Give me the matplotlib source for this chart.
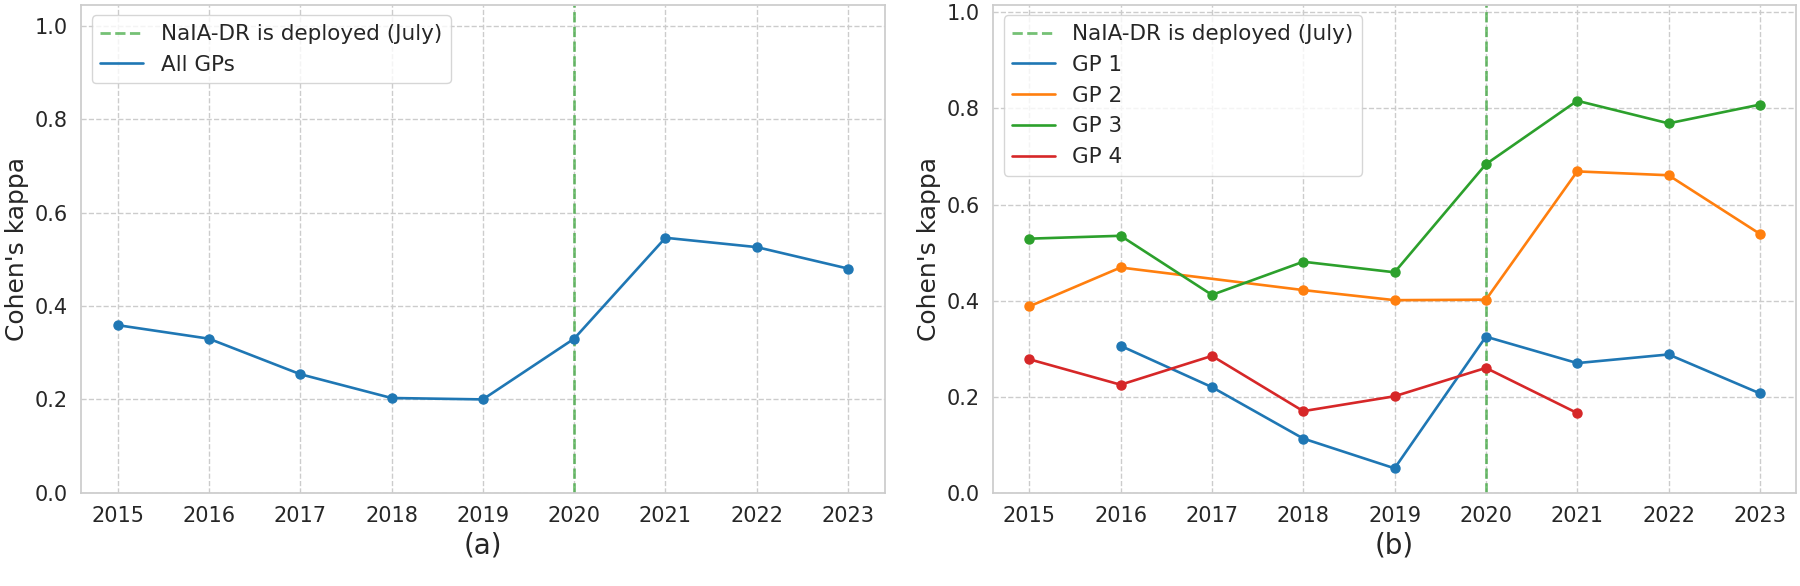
import numpy as np
import matplotlib.pyplot as plt
import seaborn as sns

sns.set_theme(style="whitegrid", rc={"grid.linestyle": "--"})
plt.rcParams['font.family'] = ['DejaVu Sans']

years = [2015, 2016, 2017, 2018, 2019, 2020, 2021, 2022, 2023]
all_gps = [0.359, 0.330, 0.254, 0.203, 0.200, 0.330, 0.546, 0.526, 0.480]

gp1_years = [2016, 2017, 2018, 2019, 2020, 2021, 2022, 2023]
gp1 = [0.306, 0.220, 0.113, 0.051, 0.325, 0.270, 0.288, 0.207]

gp2_years = [2015, 2016, 2018, 2019, 2020, 2021, 2022, 2023]
gp2 = [0.388, 0.469, 0.422, 0.401, 0.402, 0.669, 0.661, 0.539]

gp3_years = [2015, 2016, 2017, 2018, 2019, 2020, 2021, 2022, 2023]
gp3 = [0.529, 0.535, 0.412, 0.481, 0.459, 0.684, 0.816, 0.769, 0.808]

gp4_years = [2015, 2016, 2017, 2018, 2019, 2020, 2021]
gp4 = [0.278, 0.225, 0.285, 0.170, 0.201, 0.260, 0.166]

deploy_year = 2020
deploy_label = "NaIA-DR is deployed (July)"

fig, (ax1, ax2) = plt.subplots(1, 2, figsize=(18, 5.86), dpi=100)
fig.subplots_adjust(left=0.045, right=0.998, top=0.992, bottom=0.159, wspace=0.1345)

lw = 1.9
ms = 6.5


def line_with_dots(ax, x, y, color, label):
    # line goes in the legend, dots do not
    ax.plot(x, y, color=color, lw=lw, label=label)
    ax.plot(x, y, 'o', color=color, ms=ms)


# (a) all GPs together
ax1.axvline(deploy_year, color='tab:green', linestyle='--', lw=2, alpha=0.65, label=deploy_label)
line_with_dots(ax1, years, all_gps, 'tab:blue', 'All GPs')

# (b) per GP
ax2.axvline(deploy_year, color='tab:green', linestyle='--', lw=2, alpha=0.65, label=deploy_label)
line_with_dots(ax2, gp1_years, gp1, 'tab:blue', 'GP 1')
line_with_dots(ax2, gp2_years, gp2, 'tab:orange', 'GP 2')
line_with_dots(ax2, gp3_years, gp3, 'tab:green', 'GP 3')
line_with_dots(ax2, gp4_years, gp4, 'tab:red', 'GP 4')

ax1.set_ylim(0, 1.045)
ax2.set_ylim(0, 1.016)

for ax, lab in [(ax1, '(a)'), (ax2, '(b)')]:
    ax.set_yticks(np.arange(0, 1.01, 0.2))
    ax.set_xticks(years)
    ax.tick_params(axis='both', labelsize=15)
    ax.set_ylabel("Cohen's kappa", fontsize=18)
    ax.set_xlabel(lab, fontsize=20)
    ax.legend(loc='upper left', fontsize=15.5)

fig.savefig("out.png")
